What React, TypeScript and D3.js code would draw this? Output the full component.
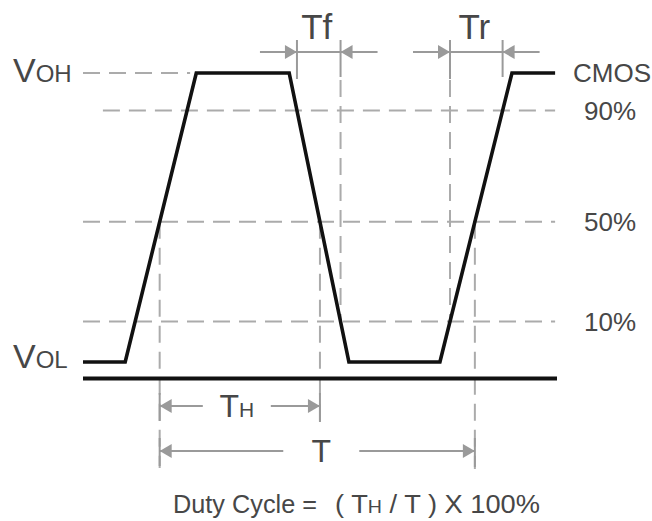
import React, { useRef, useEffect } from "react";
import * as d3 from "d3";

// waveform corners: time (0-100, arbitrary units) and logic level (0 = VOL, 1 = VOH)
const waveTime = [0, 8.9, 23.9, 43.5, 56.1, 75.3, 90.5, 99.6];
const waveLevel = [0, 0, 1, 1, 0, 0, 1, 1];

// threshold levels as drawn, their labels and where their dashed guide starts
const thresholdLevels = [0.87, 0.485, 0.14];
const thresholdLabels = ["90%", "50%", "10%"];
const thresholdStart = [4.2, 0, 0];

const familyLabel = "CMOS";
const dutyLabel = "Duty Cycle =";

export default function App({
  width = 652,
  height = 521,
}) {
  const svgRef = useRef<SVGSVGElement>(null);

  useEffect(() => {
    const x = d3.scaleLinear().domain([0, 100]).range([83, 557]);
    const y = d3.scaleLinear().domain([0, 1]).range([362, 73]);

    const svg = d3.select(svgRef.current);
    svg.selectAll("*").remove();

    const font = "'Liberation Sans', Arial, sans-serif";
    const textColor = "#474747";
    const guide = "#ababab";
    const arrowColor = "#9a9a9a";

    const rowTop = 52;
    const rowTH = 406;
    const rowT = 451;

    // time where an edge (segment i -> i+1) crosses a level
    const cross = (i: number, level: number) =>
      waveTime[i] +
      ((level - waveLevel[i]) / (waveLevel[i + 1] - waveLevel[i])) *
        (waveTime[i + 1] - waveTime[i]);

    const [l90, l50, l10] = thresholdLevels;
    const rise50 = cross(1, l50);
    const fall90 = cross(3, l90);
    const fall50 = cross(3, l50);
    const fall10 = cross(3, l10);
    const rise2_10 = cross(5, l10);
    const rise2_50 = cross(5, l50);
    const rise2_90 = cross(5, l90);

    const dashed = (x1: number, y1: number, x2: number, y2: number) =>
      svg.append("line")
        .attr("x1", x1).attr("y1", y1).attr("x2", x2).attr("y2", y2)
        .attr("stroke", guide)
        .attr("stroke-width", 2)
        .attr("stroke-dasharray", "17,9");

    const solid = (x1: number, y1: number, x2: number, y2: number) =>
      svg.append("line")
        .attr("x1", x1).attr("y1", y1).attr("x2", x2).attr("y2", y2)
        .attr("stroke", arrowColor)
        .attr("stroke-width", 2);

    // arrow head with tip at (tx, ty); dir = +1 points right, -1 points left
    const head = (tx: number, ty: number, dir: number) =>
      svg.append("path")
        .attr("d", `M${tx},${ty} L${tx - dir * 12},${ty - 7} L${tx - dir * 12},${ty + 7} Z`)
        .attr("fill", arrowColor);

    // horizontal guides
    dashed(x(0), y(1), x(22.6), y(1));
    thresholdLevels.forEach((lv, i) => {
      dashed(x(thresholdStart[i]), y(lv), x(99.6), y(lv));
    });

    // vertical guides
    dashed(x(rise50), y(l50), x(rise50), rowT + 17);
    dashed(x(fall50), y(l50), x(fall50), rowTH + 16);
    dashed(x(fall10), rowTop + 28, x(fall10), y(l10));
    dashed(x(rise2_10), rowTop + 28, x(rise2_10), y(l10));
    dashed(x(rise2_50), y(l50), x(rise2_50), rowT + 18);

    // Tf / Tr dimensions (arrows outside pointing in)
    const outside = (a: number, b: number, label: string) => {
      const xa = x(a), xb = x(b);
      solid(xa, rowTop - 12, xa, rowTop + 27);
      solid(xb, rowTop - 12, xb, rowTop + 25);
      solid(xa - 37, rowTop, xb + 37, rowTop);
      head(xa, rowTop, 1);
      head(xb, rowTop, -1);
      svg.append("text")
        .attr("x", (xa + xb) / 2 - 2)
        .attr("y", rowTop - 13)
        .attr("text-anchor", "middle")
        .attr("font-family", font)
        .attr("font-size", 35)
        .attr("fill", textColor)
        .text(label);
    };
    outside(fall90, fall10, "Tf");
    outside(rise2_10, rise2_90, "Tr");

    // TH / T dimensions (label in the gap, arrows pointing out)
    const inside = (a: number, b: number, row: number, gap: number, shift: number,
      big: string, small: string) => {
      const xa = x(a), xb = x(b);
      const mid = (xa + xb) / 2 + shift;
      solid(xa, row - 13, xa, row + 15);
      solid(xb, row - 13, xb, row + 16);
      solid(xa, row, mid - gap, row);
      solid(mid + gap, row, xb, row);
      head(xa, row, -1);
      head(xb, row, 1);
      const t = svg.append("text")
        .attr("x", mid)
        .attr("y", row + 11)
        .attr("text-anchor", "middle")
        .attr("font-family", font)
        .attr("fill", textColor);
      t.append("tspan").attr("font-size", 32).text(big);
      if (small) t.append("tspan").attr("font-size", 21).text(small);
    };
    inside(rise50, fall50, rowTH, 34, -3, "T", "H");
    inside(rise50, rise2_50, rowT, 38, 4, "T", "");

    // ground line
    svg.append("line")
      .attr("x1", x(0)).attr("x2", x(100))
      .attr("y1", y(0) + 16.5).attr("y2", y(0) + 16.5)
      .attr("stroke", "#111")
      .attr("stroke-width", 4);

    // waveform
    const line = d3.line<number>()
      .x((d, i) => x(waveTime[i]))
      .y((d) => y(d));
    svg.append("path")
      .datum(waveLevel)
      .attr("d", line)
      .attr("fill", "none")
      .attr("stroke", "#111")
      .attr("stroke-width", 3.6)
      .attr("stroke-linejoin", "miter");

    // VOH / VOL labels
    const level = (lv: number, dy: number, sub: string) => {
      const t = svg.append("text")
        .attr("x", 13)
        .attr("y", y(lv) + dy)
        .attr("font-family", font)
        .attr("fill", textColor);
      t.append("tspan").attr("font-size", 34).text("V");
      t.append("tspan").attr("font-size", 24).text(sub);
    };
    level(1, 9, "OH");
    level(0, 6, "OL");

    // right-hand labels
    svg.append("text")
      .attr("x", 573).attr("y", y(1) + 9)
      .attr("font-family", font).attr("font-size", 26)
      .attr("fill", textColor)
      .text(familyLabel);
    thresholdLevels.forEach((lv, i) => {
      svg.append("text")
        .attr("x", 584).attr("y", y(lv) + 9)
        .attr("font-family", font).attr("font-size", 26)
        .attr("fill", textColor)
        .text(thresholdLabels[i]);
    });

    // duty cycle formula
    svg.append("text")
      .attr("x", 173).attr("y", 513)
      .attr("font-family", font).attr("font-size", 25)
      .attr("fill", textColor)
      .attr("textLength", 144)
      .attr("lengthAdjust", "spacingAndGlyphs")
      .text(dutyLabel);
    const f = svg.append("text")
      .attr("x", 335).attr("y", 513)
      .attr("font-family", font).attr("font-size", 25)
      .attr("fill", textColor)
      .attr("textLength", 205)
      .attr("lengthAdjust", "spacingAndGlyphs");
    f.append("tspan").text("( T");
    f.append("tspan").attr("font-size", 18).text("H");
    f.append("tspan").text(" / T ) X 100%");
  }, [width, height]);

  return (
    <svg
      ref={svgRef}
      width={width}
      height={height}
      style={{ position: "absolute", left: 0, top: 0, background: "#fff" }}
    ></svg>
  );
}
